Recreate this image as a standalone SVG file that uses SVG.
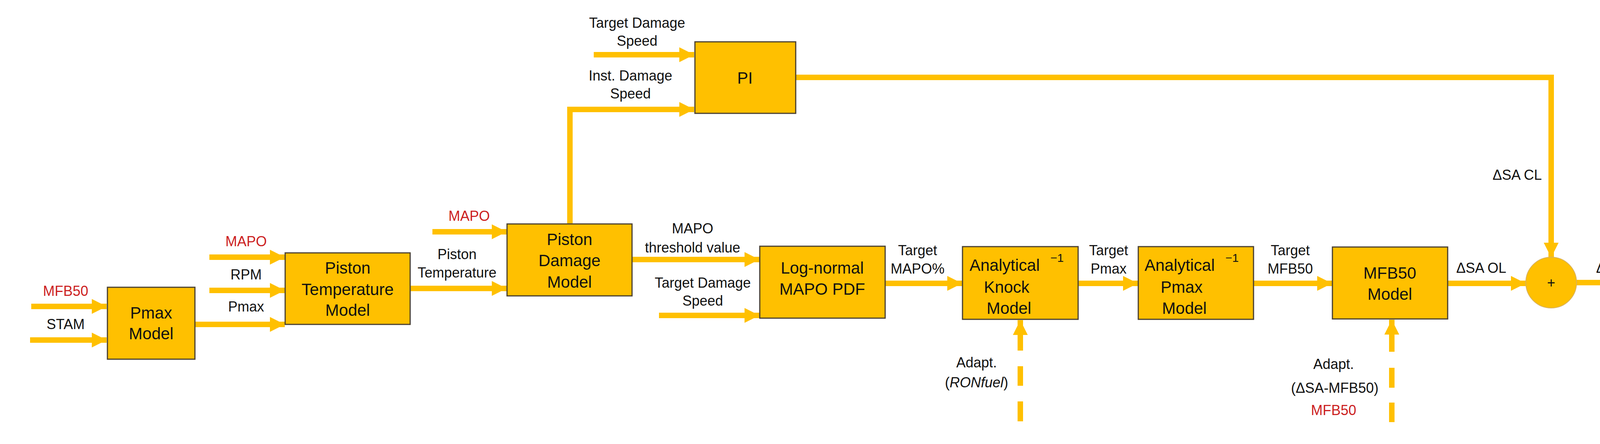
<svg xmlns="http://www.w3.org/2000/svg" width="4264" height="1136" viewBox="0 0 4264 1136">
<defs>
<marker id="ah" markerUnits="userSpaceOnUse" markerWidth="40" markerHeight="40" refX="38" refY="19" orient="auto"><path d="M0,0 L38,19 L0,38 z" fill="#FFC000"/></marker>
<style>
.box{fill:#FFC000;stroke:#4a4030;stroke-width:3}
.ln{fill:none;stroke:#FFC000;stroke-width:14}
.ar{fill:none;stroke:#FFC000;stroke-width:14;marker-end:url(#ah)}
.dash{fill:none;stroke:#FFC000;stroke-width:14;stroke-dasharray:0 39 51 40 51 40 51}
text{font-family:"Liberation Sans",Arial,sans-serif;fill:#111;text-anchor:middle}
.l{font-size:36px}
.b{font-size:42px}
.r{fill:#cc1f1f}
.sup{font-size:30px;text-anchor:start}
</style>
</defs>
<rect width="4264" height="1136" fill="#fff"/>
<g id="connectors">
<line class="ar" x1="80" y1="784" x2="273" y2="784"/>
<line class="ar" x1="77" y1="870" x2="273" y2="870"/>
<line class="ar" x1="499" y1="830" x2="729" y2="830"/>
<line class="ar" x1="536" y1="658" x2="729" y2="658"/>
<line class="ar" x1="536" y1="743" x2="729" y2="743"/>
<line class="ar" x1="1051" y1="738" x2="1297" y2="738"/>
<line class="ar" x1="1107" y1="593" x2="1297" y2="593"/>
<polyline class="ar" points="1459,573 1459,280 1777,280"/>
<line class="ar" x1="1520" y1="140" x2="1777" y2="140"/>
<polyline class="ar" points="2037,198 3971,198 3971,659"/>
<line class="ar" x1="1619" y1="664" x2="1944" y2="664"/>
<line class="ar" x1="1687" y1="807" x2="1944" y2="807"/>
<line class="ar" x1="2266" y1="725" x2="2463" y2="725"/>
<line class="ar" x1="2760" y1="725" x2="2913" y2="725"/>
<line class="ar" x1="3209" y1="725" x2="3410" y2="725"/>
<line class="ar" x1="3706" y1="725" x2="3906" y2="725"/>
<line class="ar" x1="4035" y1="723" x2="4234" y2="723"/>
<line class="ar" x1="2612" y1="897" x2="2612" y2="819"/>
<line class="ln" x1="2612" y1="937" x2="2612" y2="987"/>
<line class="ln" x1="2612" y1="1027" x2="2612" y2="1078"/>
<line class="ar" x1="3563" y1="900" x2="3563" y2="818"/>
<line class="ln" x1="3563" y1="941" x2="3563" y2="992"/>
<line class="ln" x1="3563" y1="1030" x2="3563" y2="1080"/>
</g>
<g id="labels">
<text class="l r" x="168" y="757">MFB50</text>
<text class="l" x="168" y="842">STAM</text>
<text class="l r" x="630" y="630">MAPO</text>
<text class="l" x="630" y="715">RPM</text>
<text class="l" x="630" y="797">Pmax</text>
<text class="l" x="1170" y="663">Piston</text>
<text class="l" x="1170" y="710">Temperature</text>
<text class="l r" x="1201" y="565">MAPO</text>
<text class="l" x="1631" y="71">Target Damage</text>
<text class="l" x="1631" y="117">Speed</text>
<text class="l" x="1614" y="206">Inst. Damage</text>
<text class="l" x="1614" y="252">Speed</text>
<text class="l" x="1773" y="597">MAPO</text>
<text class="l" x="1773" y="646">threshold value</text>
<text class="l" x="1799" y="736">Target Damage</text>
<text class="l" x="1799" y="782">Speed</text>
<text class="l" x="2349" y="653">Target</text>
<text class="l" x="2349" y="700">MAPO%</text>
<text class="l" x="2838" y="653">Target</text>
<text class="l" x="2838" y="700">Pmax</text>
<text class="l" x="3303" y="653">Target</text>
<text class="l" x="3303" y="700">MFB50</text>
<text class="l" x="3792" y="698">ΔSA OL</text>
<text class="l" x="4122" y="698">ΔSA</text>
<text class="l" x="3884" y="460">ΔSA CL</text>
<text class="l" x="2500" y="940">Adapt.</text>
<text class="l" x="2500" y="991">(<tspan font-style="italic">RONfuel</tspan>)</text>
<text class="l" x="3414" y="944">Adapt.</text>
<text class="l" x="3417" y="1005">(ΔSA-MFB50)</text>
<text class="l r" x="3414" y="1062">MFB50</text>
</g>
<g id="pmax-model"><rect class="box" x="275" y="735" width="224" height="184"/><text class="b" x="387" y="815">Pmax</text><text class="b" x="387" y="868">Model</text></g>
<g id="piston-temperature-model"><rect class="box" x="730" y="647" width="320" height="183"/><text class="b" x="890" y="700">Piston</text><text class="b" x="890" y="755">Temperature</text><text class="b" x="890" y="808">Model</text></g>
<g id="piston-damage-model"><rect class="box" x="1298" y="573" width="320" height="184"/><text class="b" x="1458" y="627">Piston</text><text class="b" x="1458" y="681">Damage</text><text class="b" x="1458" y="736">Model</text></g>
<g id="pi"><rect class="box" x="1779" y="107" width="258" height="183"/><text class="b" x="1907" y="214">PI</text></g>
<g id="lognormal"><rect class="box" x="1945" y="630" width="321" height="184"/><text class="b" x="2105" y="700">Log-normal</text><text class="b" x="2105" y="754">MAPO PDF</text></g>
<g id="knock-model"><rect class="box" x="2464" y="631" width="296" height="186"/><text class="b" x="2482" y="693" style="text-anchor:start">Analytical</text><text class="sup" x="2689" y="670">−1</text><text class="b" x="2577" y="749">Knock</text><text class="b" x="2583" y="803">Model</text></g>
<g id="pmax-inverse-model"><rect class="box" x="2914" y="631" width="295" height="186"/><text class="b" x="2930" y="693" style="text-anchor:start">Analytical</text><text class="sup" x="3137" y="670">−1</text><text class="b" x="3025" y="749">Pmax</text><text class="b" x="3032" y="803">Model</text></g>
<g id="mfb50-model"><rect class="box" x="3411" y="632" width="295" height="184"/><text class="b" x="3558" y="713">MFB50</text><text class="b" x="3558" y="767">Model</text></g>
<g id="sum"><circle cx="3971" cy="723" r="65" fill="#FFC000" stroke="#d9b25a" stroke-width="2"/><text class="l" x="3971" y="736">+</text></g>
</svg>
